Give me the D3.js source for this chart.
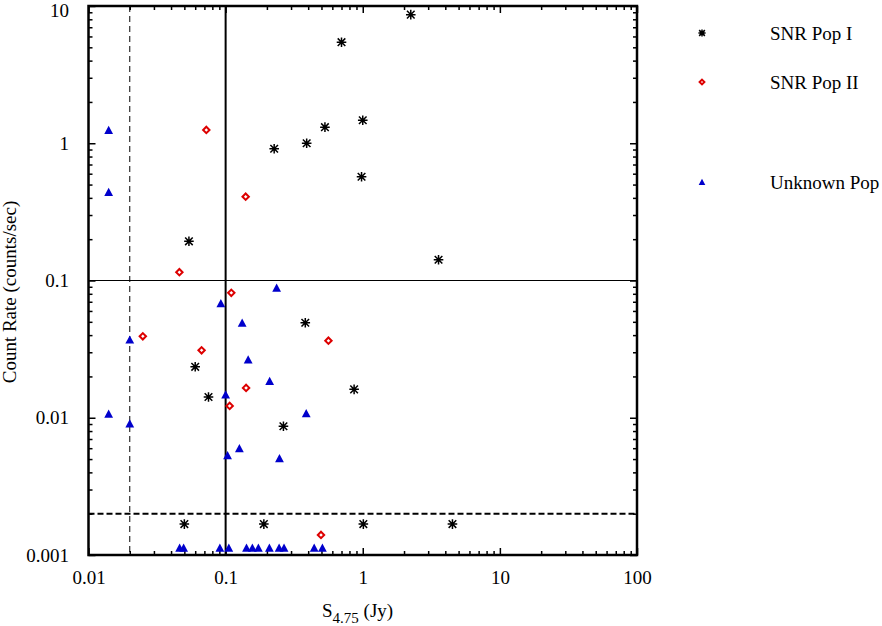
<!DOCTYPE html>
<html>
<head>
<meta charset="utf-8">
<script src="https://cdn.jsdelivr.net/npm/d3@7"></script>
<style>
  body { margin: 0; background: #fff; }
  svg { display: block; font-family: "Liberation Serif", "DejaVu Serif", serif; }
</style>
</head>
<body>
<svg id="chart" width="882" height="626"></svg>
<script>
// SNR Pop I (black asterisks)
const popIFlux = [2.24, 0.70, 1.0, 0.53, 0.39, 0.226, 0.98, 3.57, 0.054, 0.381, 0.060, 0.075, 0.264, 0.865, 0.050, 0.19, 1.01, 4.51];
const popIRate = [8.65, 5.45, 1.47, 1.31, 1.0, 0.912, 0.57, 0.1416, 0.193, 0.0492, 0.0235, 0.01416, 0.00867, 0.0161, 0.00168, 0.00168, 0.00168, 0.00168];

// SNR Pop II (red diamonds)
const popIIFlux = [0.0723, 0.140, 0.046, 0.110, 0.0249, 0.0668, 0.562, 0.141, 0.107, 0.496];
const popIIRate = [1.25, 0.408, 0.115, 0.0813, 0.0392, 0.031, 0.0364, 0.0165, 0.0122, 0.0014];

// Unknown Pop (blue triangles)
const unknownFlux = [0.01403, 0.01403, 0.02, 0.01403, 0.02, 0.0923, 0.2355, 0.132, 0.146, 0.2095, 0.1, 0.387, 0.126, 0.1033, 0.247,
  0.0462, 0.0494, 0.0908, 0.1055, 0.142, 0.1567, 0.1733, 0.2085, 0.2455, 0.2667, 0.4425, 0.508];
const unknownRate = [1.25, 0.441, 0.0371, 0.0107, 0.00908, 0.0684, 0.0885, 0.0492, 0.0266, 0.01854, 0.0148, 0.0108, 0.006, 0.00533, 0.00507,
  0.00113, 0.00113, 0.00113, 0.00113, 0.00113, 0.00113, 0.00113, 0.00113, 0.00113, 0.00113, 0.00113, 0.00113];

const xTickLabels = ["0.01", "0.1", "1", "10", "100"];
const yTickLabels = ["0.001", "0.01", "0.1", "1", "10"];
const legendLabels = ["SNR Pop I", "SNR Pop II", "Unknown Pop"];

// reference lines
const fluxLimit = 0.1, fluxDashed = 0.02;
const rateLimit = 0.1, rateDashed = 0.002;

const svg = d3.select("#chart");
const plotL = 88.5, plotR = 637, plotT = 6, plotB = 555;

const x = d3.scaleLog().domain([0.01, 100]).range([plotL, plotR]);
const y = d3.scaleLog().domain([0.001, 10]).range([plotB, plotT]);

const isMajor = v => Math.abs(Math.log10(v) - Math.round(Math.log10(v))) < 1e-9;
const xMajor = x.ticks().filter(isMajor), xMinor = x.ticks().filter(v => !isMajor(v));
const yMajor = y.ticks().filter(isMajor), yMinor = y.ticks().filter(v => !isMajor(v));

function drawAxis(axisFn, scale, pos, transform, major, minor, labels) {
  const g = svg.append("g").attr("transform", transform);
  g.call(axisFn(scale).tickValues(major).tickSize(-7).tickPadding(pos === "bottom" ? 16 : 19.5)
    .tickFormat(labels ? (d, i) => labels[i] : ""));
  g.select(".domain").remove();
  const g2 = svg.append("g").attr("transform", transform);
  g2.call(axisFn(scale).tickValues(minor).tickSize(-4).tickFormat(""));
  g2.select(".domain").remove();
  g.selectAll(".tick line").attr("stroke-width", 1.5);
  g2.selectAll(".tick line").attr("stroke-width", 1.5);
  g.selectAll("text").attr("font-size", 19).attr("font-family", "Liberation Serif").attr("fill", "#000");
  // keep the top label inside the page
  if (pos === "left") g.selectAll("text").filter(d => d === 10).attr("dy", "0.55em");
}

drawAxis(d3.axisBottom, x, "bottom", `translate(0,${plotB})`, xMajor, xMinor, xTickLabels);
drawAxis(d3.axisTop, x, "top", `translate(0,${plotT})`, xMajor, xMinor, null);
drawAxis(d3.axisLeft, y, "left", `translate(${plotL},0)`, yMajor, yMinor, yTickLabels);
drawAxis(d3.axisRight, y, "right", `translate(${plotR},0)`, yMajor, yMinor, null);

// reference lines
svg.append("line").attr("x1", x(fluxLimit)).attr("x2", x(fluxLimit)).attr("y1", plotT).attr("y2", plotB)
  .attr("stroke", "#000").attr("stroke-width", 2);
svg.append("line").attr("x1", x(fluxDashed)).attr("x2", x(fluxDashed)).attr("y1", plotT).attr("y2", plotB)
  .attr("stroke", "#000").attr("stroke-width", 1).attr("stroke-dasharray", "6,4");
svg.append("line").attr("x1", plotL).attr("x2", plotR).attr("y1", y(rateLimit)).attr("y2", y(rateLimit))
  .attr("stroke", "#000").attr("stroke-width", 1);
svg.append("line").attr("x1", plotL).attr("x2", plotR).attr("y1", y(rateDashed)).attr("y2", y(rateDashed))
  .attr("stroke", "#000").attr("stroke-width", 2).attr("stroke-dasharray", "6,3");

// frame
svg.append("rect").attr("x", plotL).attr("y", plotT).attr("width", plotR - plotL).attr("height", plotB - plotT)
  .attr("fill", "none").attr("stroke", "#000").attr("stroke-width", 2.5);

// markers
const asterisk = s => `M${-4.8*s},0H${4.8*s}M0,${-4.8*s}V${4.8*s}M${-3.8*s},${-3.8*s}L${3.8*s},${3.8*s}M${-3.8*s},${3.8*s}L${3.8*s},${-3.8*s}`;
const diamond = s => `M0,${-3.2*s}L${3.2*s},0L0,${3.2*s}L${-3.2*s},0Z`;
const triangle = s => `M0,${-4.2*s}L${4.4*s},${4*s}L${-4.4*s},${4*s}Z`;

const series = [
  { fx: popIFlux, ry: popIRate, path: asterisk, fill: "none", stroke: "#000", sw: 1.5 },
  { fx: popIIFlux, ry: popIIRate, path: diamond, fill: "none", stroke: "#dd0000", sw: 2 },
  { fx: unknownFlux, ry: unknownRate, path: triangle, fill: "#0000cc", stroke: "none", sw: 0 }
];

series.forEach(s => {
  svg.append("g").selectAll("path")
    .data(d3.zip(s.fx, s.ry))
    .join("path")
    .attr("transform", d => `translate(${x(d[0])},${y(d[1])})`)
    .attr("d", s.path(1))
    .attr("fill", s.fill).attr("stroke", s.stroke).attr("stroke-width", s.sw);
});

// legend
const legendY = [33, 82, 182];
series.forEach((s, i) => {
  svg.append("path").attr("transform", `translate(702,${legendY[i]})`)
    .attr("d", s.path(0.75)).attr("fill", s.fill).attr("stroke", s.stroke).attr("stroke-width", s.sw);
  svg.append("text").attr("x", 770).attr("y", legendY[i]).attr("dy", "0.35em")
    .attr("font-size", 19).text(legendLabels[i]);
});

// axis titles
svg.append("text").attr("transform", `translate(16,292) rotate(-90)`).attr("text-anchor", "middle")
  .attr("font-size", 19).text("Count Rate (counts/sec)");

const xt = svg.append("text").attr("x", 322).attr("y", 617).attr("font-size", 19);
xt.append("tspan").text("S");
xt.append("tspan").attr("font-size", 15).attr("dy", 6).text("4.75");
xt.append("tspan").attr("dy", -6).text(" (Jy)");
</script>
</body>
</html>
